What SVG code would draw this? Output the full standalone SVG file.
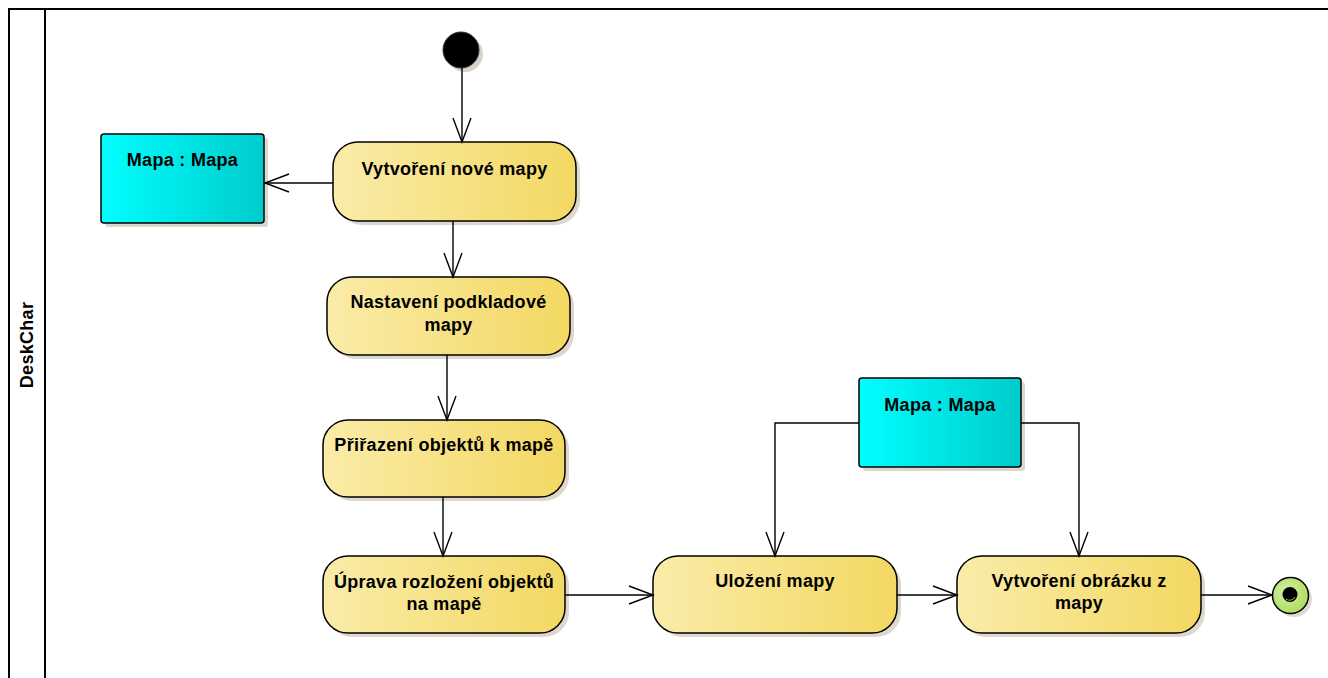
<svg xmlns="http://www.w3.org/2000/svg" width="1328" height="678" viewBox="0 0 1328 678">
<defs>
<linearGradient id="gAct" x1="0" y1="0" x2="1" y2="0">
<stop offset="0" stop-color="#faeca9"/>
<stop offset="1" stop-color="#f3d862"/>
</linearGradient>
<linearGradient id="gObj" x1="0" y1="0" x2="1" y2="0">
<stop offset="0" stop-color="#00ffff"/>
<stop offset="1" stop-color="#00cccc"/>
</linearGradient>
<radialGradient id="gEnd" cx="0.4" cy="0.4" r="0.7">
<stop offset="0" stop-color="#d4f0a8"/>
<stop offset="1" stop-color="#a8da55"/>
</radialGradient>
<marker id="arr" markerUnits="userSpaceOnUse" markerWidth="30" markerHeight="24" viewBox="-26 -12 30 24" refX="0" refY="0" orient="auto">
<path d="M -24 -9 L 0 0 L -24 9" fill="none" stroke="#000" stroke-width="1.4"/>
</marker>
</defs>
<style>
.frame{fill:none;stroke:#000;stroke-width:2}
.act{fill:url(#gAct);stroke:#000;stroke-width:1.5}
.obj{fill:url(#gObj);stroke:#000;stroke-width:1.5}
.shadow{fill:#ddd7cd}
.txt{font-family:"Liberation Sans",Arial,sans-serif;font-weight:bold;font-size:18px;letter-spacing:0.3px;fill:#000;text-anchor:middle}
.conn{fill:none;stroke:#000;stroke-width:1.4}
</style>
<rect width="1328" height="678" fill="#fff"/>
<g id="swimlane">
<rect class="frame" x="9" y="9" width="1340" height="700"/>
<line class="frame" x1="45" y1="9" x2="45" y2="700"/>
<text class="txt" transform="translate(33,345) rotate(-90)">DeskChar</text>
</g>
<g id="start">
<circle cx="465" cy="54" r="18" fill="#d8d2c8"/>
<circle cx="461" cy="50" r="18" fill="#000" stroke="#333" stroke-width="1"/>
</g>
<g id="obj1">
<rect class="shadow" x="105" y="138" width="163" height="89" rx="3"/>
<rect class="obj" x="101" y="134" width="163" height="89" rx="3"/>
<text class="txt" x="182.5" y="166">Mapa : Mapa</text>
</g>
<g id="act1">
<rect class="shadow" x="337" y="146" width="243" height="79" rx="25"/>
<rect class="act" x="333" y="142" width="243" height="79" rx="25"/>
<text class="txt" x="454.5" y="175">Vytvoření nové mapy</text>
</g>
<g id="act2">
<rect class="shadow" x="331" y="281" width="243" height="78" rx="25"/>
<rect class="act" x="327" y="277" width="243" height="78" rx="25"/>
<text class="txt" x="448.5" y="308">Nastavení podkladové</text>
<text class="txt" x="448.5" y="331">mapy</text>
</g>
<g id="act3">
<rect class="shadow" x="327" y="424" width="242" height="77" rx="25"/>
<rect class="act" x="323" y="420" width="242" height="77" rx="25"/>
<text class="txt" x="444" y="451">Přiřazení objektů k mapě</text>
</g>
<g id="act4">
<rect class="shadow" x="327" y="560" width="242" height="77" rx="25"/>
<rect class="act" x="323" y="556" width="242" height="77" rx="25"/>
<text class="txt" x="444" y="588">Úprava rozložení objektů</text>
<text class="txt" x="444" y="610">na mapě</text>
</g>
<g id="act5">
<rect class="shadow" x="657" y="560" width="244" height="77" rx="25"/>
<rect class="act" x="653" y="556" width="244" height="77" rx="25"/>
<text class="txt" x="775" y="587">Uložení mapy</text>
</g>
<g id="act6">
<rect class="shadow" x="961" y="560" width="244" height="77" rx="25"/>
<rect class="act" x="957" y="556" width="244" height="77" rx="25"/>
<text class="txt" x="1079" y="587">Vytvoření obrázku z</text>
<text class="txt" x="1079" y="609">mapy</text>
</g>
<g id="obj2">
<rect class="shadow" x="863" y="382" width="162" height="89" rx="3"/>
<rect class="obj" x="859" y="378" width="162" height="89" rx="3"/>
<text class="txt" x="940" y="411">Mapa : Mapa</text>
</g>
<g id="end">
<circle cx="1294" cy="599" r="18" fill="#dedad2"/>
<circle cx="1290.5" cy="595.5" r="18" fill="url(#gEnd)" stroke="#000" stroke-width="1.5"/>
<circle cx="1290" cy="594.5" r="7.5" fill="#000"/>
<path d="M 1286 599 A 6 6 0 0 0 1295 597" fill="none" stroke="#8fbf4a" stroke-width="1"/>
</g>
<g id="connectors">
<line class="conn" x1="462" y1="68" x2="462" y2="142" marker-end="url(#arr)"/>
<line class="conn" x1="333" y1="183" x2="265" y2="183" marker-end="url(#arr)"/>
<line class="conn" x1="453" y1="221" x2="453" y2="277" marker-end="url(#arr)"/>
<line class="conn" x1="447" y1="355" x2="447" y2="420" marker-end="url(#arr)"/>
<line class="conn" x1="443" y1="497" x2="443" y2="556" marker-end="url(#arr)"/>
<line class="conn" x1="565" y1="595" x2="653" y2="595" marker-end="url(#arr)"/>
<line class="conn" x1="897" y1="595" x2="957" y2="595" marker-end="url(#arr)"/>
<line class="conn" x1="1201" y1="595" x2="1272" y2="595" marker-end="url(#arr)"/>
<polyline class="conn" points="859,423 775,423 775,556" marker-end="url(#arr)"/>
<polyline class="conn" points="1021,423 1079,423 1079,556" marker-end="url(#arr)"/>
</g>
</svg>
